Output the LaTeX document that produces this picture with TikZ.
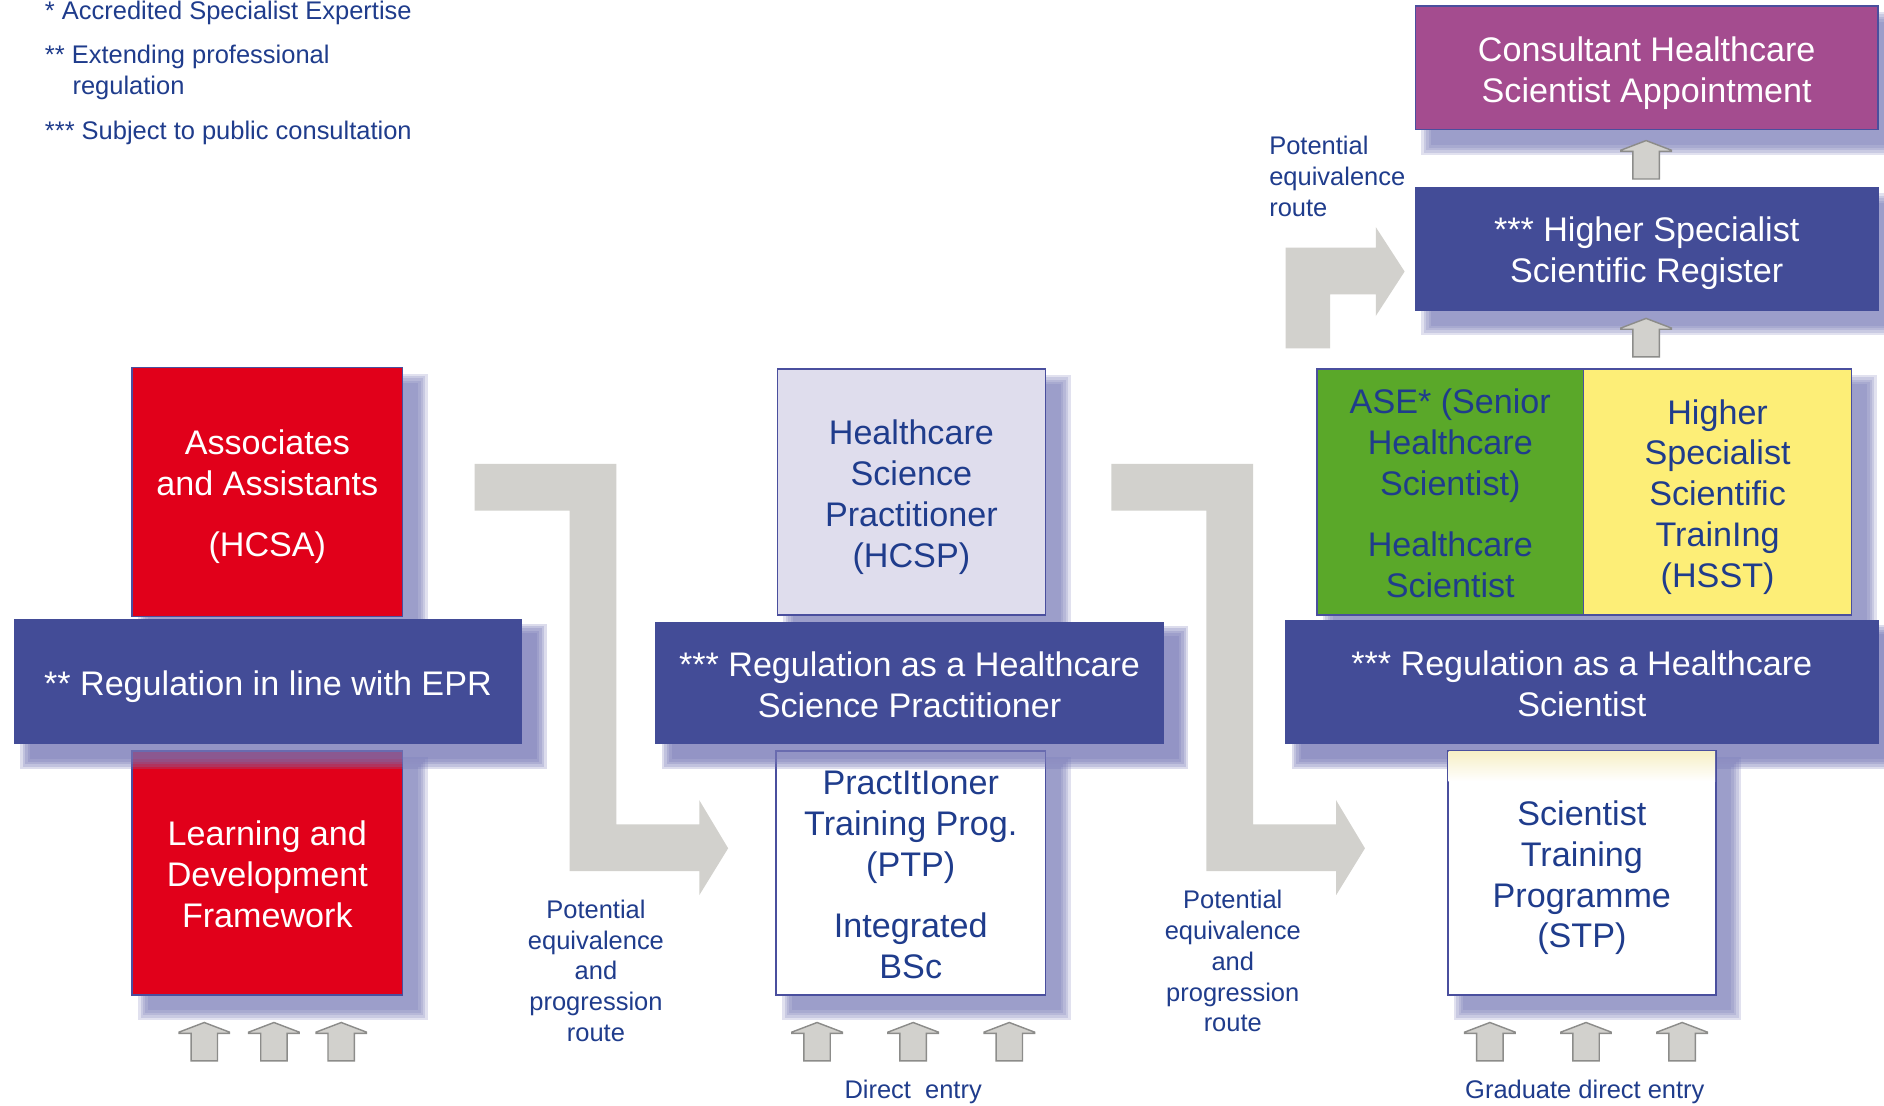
\documentclass[tikz,border=0pt]{standalone}
\usepackage{fontspec}
\setmainfont{Liberation Sans}
\definecolor{navy}{HTML}{1F3C8C}
\definecolor{bandblue}{HTML}{434C97}
\definecolor{purplebox}{HTML}{A44C8F}
\definecolor{redbox}{HTML}{E1001A}
\definecolor{greenbox}{HTML}{5AA829}
\definecolor{yellowbox}{HTML}{FDEE77}
\definecolor{lavbox}{HTML}{DFDDED}
\definecolor{boxedge}{HTML}{4A4F9E}
\definecolor{shadowcol}{HTML}{7476B6}
\definecolor{routegray}{HTML}{D2D1CD}
\definecolor{arredge}{HTML}{8C8C8A}
\definecolor{cream}{HTML}{F6EFC6}
\newcommand{\boxfont}{\fontsize{14.2}{17}\selectfont}
\newcommand{\notefont}{\fontsize{10.6}{12.8}\selectfont}
\newcommand{\tp}{\rule{0pt}{14.4pt}}
\newcommand{\softshadow}[5][0.21]{%
  \foreach \d in {0,2,4,6,8}{%
    \fill[shadowcol,opacity=#1] ({#2+5+\d},{#3+5+\d}) rectangle ({#4+21-\d},{#5+21-\d});
  }}
\tikzset{
  sz/.style 2 args={minimum width={#1*0.5pt}, minimum height={#2*0.5pt}},
  box/.style={rectangle, inner sep=0pt, align=center, font=\boxfont, draw=boxedge, line width=0.6pt,
    execute at end node={\rule[-3.0pt]{0pt}{3.0pt}}},
  bandbox/.style={box, fill=bandblue, draw=bandblue, text=white},
  redcard/.style={box, fill=redbox, text=white},
  whitecard/.style={box, fill=white, text=navy},
  note/.style={font=\notefont, text=navy, inner sep=0pt},
  route/.style={fill=routegray},
  uparr/.pic={\path[fill=routegray, draw=arredge, line width=0.6pt]
     (0,0) -- (21,8) -- (21,9) -- (11,9) -- (11,32) -- (-11,32) -- (-11,9) -- (-21,9) -- (-21,8) -- cycle;}
}
\begin{document}
\begin{tikzpicture}[x=0.5pt,y=-0.5pt]
\useasboundingbox (0,0) rectangle (1568,920);
\fill[white] (0,0) rectangle (1568,920);

% legend
\node[note, anchor=base west] (leg1) at (37,16) {* Accredited Specialist Expertise};
\node[note, anchor=base west] (leg2) at (37,52.5) {** Extending professional};
\node[note, anchor=base west] (leg2b) at (60,78.5) {regulation};
\node[note, anchor=base west] (leg3) at (37,116.5) {*** Subject to public consultation};

% big grey route arrows
\path[route] (395,386) -- (513,386) -- (513,686) -- (582,686) -- (582,666) -- (606,706)
  -- (582,745) -- (582,725) -- (474,725) -- (474,425) -- (395,425) -- cycle;
\path[route] (925,386) -- (1043,386) -- (1043,686) -- (1112,686) -- (1112,666) -- (1136,706)
  -- (1112,745) -- (1112,725) -- (1004,725) -- (1004,425) -- (925,425) -- cycle;
\path[route] (1070,290) -- (1070,206) -- (1145,206) -- (1145,189) -- (1169,226)
  -- (1145,263) -- (1145,245) -- (1107,245) -- (1107,290) -- cycle;

% upper cards
\softshadow{1178}{5}{1563}{108}
\node[box, fill=purplebox, text=white, sz={385}{103}] (cons) at (1370.5,56.5)
  {\tp Consultant Healthcare\\Scientist Appointment};
\softshadow{1178}{156}{1563}{258}
\node[bandbox, sz={385}{102}] (hssr) at (1370.5,207)
  {\tp*** Higher Specialist\\Scientific Register};
\softshadow{1096}{307}{1541}{512}
\node[box, fill=greenbox, text=navy, sz={222}{205}] (ase) at (1207,409.5)
  {\tp ASE* (Senior\\Healthcare\\Scientist)\\[8.5pt]Healthcare\\Scientist};
\node[box, fill=yellowbox, text=navy, sz={223}{205}] (hsst) at (1429.5,409.5)
  {\tp Higher\\Specialist\\Scientific\\TrainIng\\(HSST)};
\softshadow{647}{307}{870}{512}
\node[box, fill=lavbox, text=navy, sz={223}{205}] (hcsp) at (758.5,409.5)
  {\tp Healthcare\\Science\\Practitioner\\(HCSP)};
\softshadow{110}{306}{335}{513}
\node[redcard, sz={225}{207}] (hcsa) at (222.5,409.5)
  {\tp Associates\\and Assistants\\[8.5pt](HCSA)};

% lower cards
\softshadow{110}{625}{335}{828}
\node[redcard, sz={225}{203}] (ldf) at (222.5,726.5)
  {\tp Learning and\\Development\\Framework};
\softshadow{646}{625}{870}{828}
\node[whitecard, sz={224}{203}] (ptp) at (758,726.5)
  {\tp PractItIoner\\Training Prog.\\(PTP)\\[8.5pt]Integrated\\BSc};
\softshadow{1205}{625}{1428}{828}

% regulation bands
\softshadow[0.25]{12}{514}{434}{619}
\softshadow[0.25]{546}{516}{968}{619}
\softshadow[0.25]{1070}{515}{1563}{619}
\node[whitecard, sz={223}{203}] (stp) at (1316.5,726.5)
  {\tp Scientist\\Training\\Programme\\(STP)};
\shade[top color=cream, bottom color=white] (1205.6,625.6) rectangle (1427.4,650);
\node[bandbox, sz={422}{103}] (lband) at (223,567.5) {\tp** Regulation in line with EPR};
\node[bandbox, sz={422}{101}] (mband) at (757,568.5)
  {\tp*** Regulation as a Healthcare\\Science Practitioner};
\node[bandbox, sz={493}{102}] (rband) at (1316.5,568)
  {\tp*** Regulation as a Healthcare\\Scientist};

% small up arrows
\pic at (1370,117) {uparr};
\pic at (1370,265) {uparr};
\foreach \x in {170,228,284,680,760,840,1240,1320,1400} { \pic at (\x,851) {uparr}; }

% route labels
\node[note, align=left, anchor=west] (pe3) at (1056,147)
  {Potential\\equivalence\\route};
\node[note, align=center] (pe1) at (496,808)
  {Potential\\equivalence\\and\\progression\\route};
\node[note, align=center] (pe2) at (1026,800)
  {Potential\\equivalence\\and\\progression\\route};
\node[note] (de) at (760,909) {Direct\ \ entry};
\node[note] (gde) at (1319,909) {Graduate direct entry};
\end{tikzpicture}
\end{document}
